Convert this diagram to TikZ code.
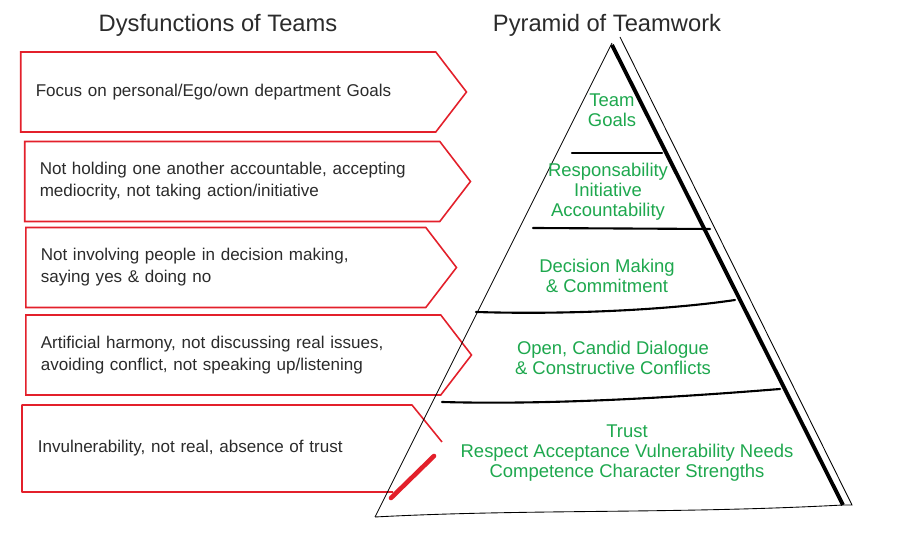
\documentclass[tikz,border=0pt]{standalone}
\usepackage{fontspec}
\setmainfont{Liberation Sans}
\usetikzlibrary{shapes.symbols, positioning}
\definecolor{tinta}{HTML}{2B2B2B}
\definecolor{rojo}{HTML}{E3202B}
\definecolor{verde}{HTML}{1EA84E}
\tikzset{
  dysbox/.style={signal, signal to=east, signal pointer angle=105, draw=rojo, line width=0.9pt,
                 minimum height=1.6cm, inner xsep=0.3cm, text width=7.7cm, align=left,
                 font=\fontsize{9.7}{12.5}\selectfont, text=tinta, anchor=west},
  dyslinea/.style={draw=rojo, line width=0.9pt, line join=round},
  titulo/.style={font=\fontsize{13.5}{16}\selectfont, text=tinta},
  capa/.style={font=\fontsize{10.5}{11.5}\selectfont, text=verde, align=center},
  borde/.style={line width=0.5pt, color=black},
  franja/.style={line width=1.2pt, color=black, line cap=round}
}

\begin{document}
\begin{tikzpicture}
  \useasboundingbox [fill=white] (0,0) rectangle (18,10.8);
  % titles
  \node (tDys) [titulo] at (4.36,10.30) {Dysfunctions of Teams};
  \node (tPir) [titulo] at (12.14,10.30) {Pyramid of Teamwork};
  % dysfunction arrows
  \node (dys1) [dysbox] at (0.40,8.96) {Focus on personal/Ego/own department Goals};
  \node (dys2) [dysbox] at (0.48,7.17) {Not holding one another accountable, accepting\\mediocrity, not taking action/initiative};
  \node (dys3) [dysbox, text width=7.4cm] at (0.50,5.45) {Not involving people in decision making,\\saying yes \& doing no};
  \node (dys4) [dysbox] at (0.50,3.70) {Artificial harmony, not discussing real issues,\\avoiding conflict, not speaking up/listening};
  % last arrow: open lower edge, brush stroke instead
  \node (dys5) [dysbox, draw=none, text width=7.1cm, minimum height=1.72cm] at (0.44,1.83) {Invulnerability, not real, absence of trust};
  \draw [dyslinea] (7.86,0.96) -- (0.44,0.96) -- (0.44,2.70) -- (8.24,2.70) -- (8.84,1.96);
  \draw [rojo, line width=2.6pt, line cap=round] (8.68,1.68) -- (7.82,0.84);
  % pyramid
  \coordinate (apex) at (12.24,9.94);
  \coordinate (baseL) at (7.50,0.46);
  \coordinate (baseR) at (16.86,0.70);
  \draw [borde] (apex) -- (baseL);
  \draw [borde] (baseL) .. controls (10.5,0.62) and (13.5,0.52) .. (baseR);
  \draw [line width=2.2pt] (12.24,9.90) -- (baseR);
  \draw [borde] (12.40,10.06) -- (17.04,0.70) -- (baseR);
  \draw [franja] (11.44,7.74) -- (13.24,7.74);
  \draw [franja] (10.66,6.24) -- (14.20,6.22);
  \draw [franja] (9.52,4.56) .. controls (11.5,4.50) and (13.5,4.62) .. (14.70,4.80);
  \draw [franja] (8.84,2.76) .. controls (11,2.70) and (13.5,2.85) .. (15.60,3.02);
  % layers
  \node (capa1) [capa] at (12.24,8.60) {Team\\Goals};
  \node (capa2) [capa] at (12.16,6.96) {Responsability\\Initiative\\Accountability};
  \node (capa3) [capa] at (12.14,5.28) {Decision Making\\\& Commitment};
  \node (capa4) [capa] at (12.26,3.64) {Open, Candid Dialogue\\\& Constructive Conflicts};
  \node (capa5) [capa] at (12.54,1.74) {Trust\\Respect Acceptance Vulnerability Needs\\Competence Character Strengths};
\end{tikzpicture}
\end{document}
